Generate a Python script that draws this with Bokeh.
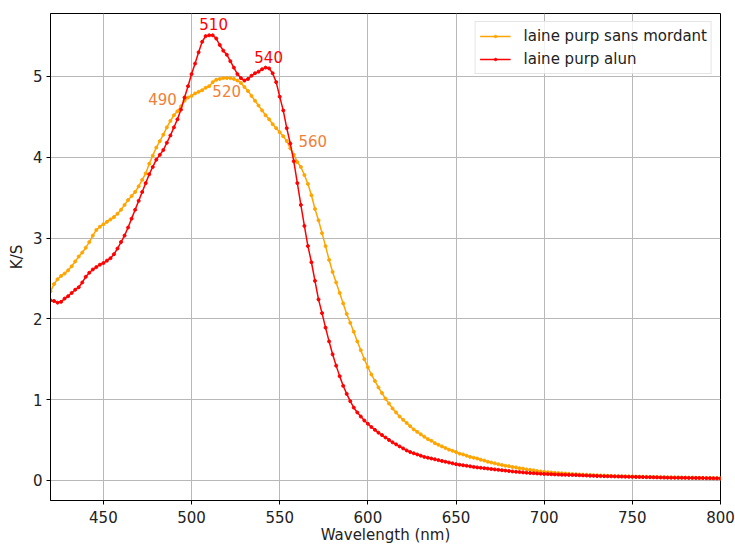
from bokeh.plotting import figure
from bokeh.models import Range1d, FixedTicker, Legend, LegendItem
from bokeh.core.properties import value
from bokeh.embed import file_html
from bokeh.resources import INLINE

# ---------------- data ----------------
wavelength = list(range(420, 801, 2))

sans_mordant = [
    2.34, 2.43, 2.49, 2.53, 2.56, 2.60, 2.65, 2.71, 2.77, 2.82,
    2.88, 2.95, 3.03, 3.10, 3.14, 3.17, 3.20, 3.23, 3.26, 3.30,
    3.35, 3.41, 3.47, 3.52, 3.57, 3.64, 3.72, 3.80, 3.92, 4.02,
    4.12, 4.20, 4.28, 4.37, 4.45, 4.52, 4.57, 4.63, 4.70, 4.74,
    4.76, 4.79, 4.81, 4.83, 4.86, 4.88, 4.93, 4.96, 4.97, 4.98,
    4.98, 4.98, 4.97, 4.95, 4.92, 4.87, 4.82, 4.76, 4.70, 4.64,
    4.58, 4.52, 4.47, 4.41, 4.36, 4.31, 4.26, 4.20, 4.11, 4.03,
    3.94, 3.88, 3.78, 3.67, 3.53, 3.36, 3.22, 3.06, 2.90, 2.73,
    2.58, 2.45, 2.32, 2.19, 2.06, 1.95, 1.84, 1.72, 1.61, 1.50,
    1.40, 1.31, 1.23, 1.15, 1.08, 1.01, 0.95, 0.89, 0.84, 0.79,
    0.75, 0.71, 0.67, 0.63, 0.60, 0.57, 0.54, 0.51, 0.49, 0.46,
    0.44, 0.42, 0.40, 0.38, 0.365, 0.35, 0.33, 0.32, 0.305, 0.29,
    0.28, 0.27, 0.255, 0.245, 0.23, 0.22, 0.21, 0.20, 0.19, 0.18,
    0.175, 0.165, 0.16, 0.15, 0.145, 0.135, 0.13, 0.125, 0.115, 0.11,
    0.105,
    0.101, 0.097, 0.093, 0.090, 0.087, 0.084, 0.081, 0.078, 0.075, 0.072,
    0.070, 0.068, 0.066, 0.064, 0.062, 0.060, 0.058, 0.056, 0.054, 0.052,
    0.051, 0.050, 0.049, 0.048, 0.047, 0.046, 0.045, 0.044, 0.043, 0.042,
    0.041, 0.040, 0.039, 0.038, 0.037, 0.036, 0.035, 0.035, 0.034, 0.033,
    0.032, 0.032, 0.031, 0.030, 0.030, 0.029, 0.028, 0.028, 0.027, 0.026,
]

alun = [
    2.23, 2.22, 2.20, 2.21, 2.25, 2.28, 2.32, 2.36, 2.39, 2.45,
    2.52, 2.57, 2.61, 2.64, 2.67, 2.69, 2.72, 2.75, 2.80, 2.87,
    2.95, 3.03, 3.13, 3.24, 3.35, 3.46, 3.57, 3.68, 3.79, 3.88,
    3.97, 4.03, 4.09, 4.18, 4.27, 4.37, 4.47, 4.59, 4.74, 4.88,
    5.03, 5.16, 5.30, 5.43, 5.50, 5.51, 5.51, 5.47, 5.39, 5.32,
    5.27, 5.19, 5.11, 5.03, 4.98, 4.95, 4.97, 5.01, 5.04, 5.06,
    5.09, 5.11, 5.10, 5.04, 4.93, 4.75, 4.58, 4.36, 4.17, 3.95,
    3.68, 3.41, 3.15, 2.90, 2.70, 2.47, 2.24, 2.07, 1.89, 1.72,
    1.56, 1.42, 1.29, 1.17, 1.07, 0.98, 0.90, 0.84, 0.79, 0.74,
    0.70, 0.66, 0.625, 0.59, 0.56, 0.53, 0.50, 0.47, 0.445, 0.42,
    0.395, 0.37, 0.35, 0.335, 0.32, 0.305, 0.29, 0.28, 0.27, 0.26,
    0.25, 0.24, 0.23, 0.22, 0.21, 0.20, 0.193, 0.186, 0.18, 0.173,
    0.166, 0.16, 0.155, 0.15, 0.145, 0.14, 0.135, 0.13, 0.125, 0.12,
    0.115, 0.11, 0.106, 0.102, 0.098, 0.094, 0.091, 0.088, 0.085, 0.082,
    0.079,
    0.077, 0.075, 0.073, 0.071, 0.069, 0.068, 0.067, 0.066, 0.065, 0.063,
    0.061, 0.059, 0.057, 0.055, 0.053, 0.052, 0.051, 0.050, 0.049, 0.048,
    0.047, 0.046, 0.045, 0.044, 0.043, 0.042, 0.041, 0.040, 0.039, 0.038,
    0.037, 0.036, 0.035, 0.034, 0.033, 0.033, 0.032, 0.032, 0.031, 0.031,
    0.030, 0.030, 0.029, 0.029, 0.028, 0.027, 0.026, 0.025, 0.024, 0.023,
]

assert len(wavelength) == len(sans_mordant) == len(alun), (len(wavelength), len(sans_mordant), len(alun))

x_ticks = [450, 500, 550, 600, 650, 700, 750, 800]
y_ticks = [0, 1, 2, 3, 4, 5]

# peak annotations (text, x, y)
red_labels = ["510", "540"]
red_label_x = [504.4, 535.6]
red_label_y = [5.58, 5.17]
orange_labels = ["490", "520", "560"]
orange_label_x = [475.4, 511.8, 560.6]
orange_label_y = [4.65, 4.75, 4.13]

FONT = "DejaVu Sans"
FS = "15px"

p = figure(width=735, height=546, output_backend="svg", toolbar_location=None,
           x_range=Range1d(420, 800), y_range=Range1d(-0.25, 5.78),
           min_border_left=50, min_border_right=15, min_border_top=13, min_border_bottom=44)
p.background_fill_color = "white"
p.border_fill_color = "white"
p.outline_line_color = "black"
p.outline_line_width = 1

for ax in (p.xaxis[0], p.yaxis[0]):
    ax.major_label_text_font = FONT
    ax.major_label_text_font_size = FS
    ax.major_label_text_color = "#222222"
    ax.axis_label_text_font = FONT
    ax.axis_label_text_font_size = FS
    ax.axis_label_text_font_style = "normal"
    ax.axis_label_text_color = "#222222"
    ax.axis_line_color = "black"
    ax.major_tick_line_color = "black"
    ax.major_tick_out = 4
    ax.major_tick_in = 0
    ax.minor_tick_line_color = None

p.xaxis.ticker = FixedTicker(ticks=x_ticks)
p.yaxis.ticker = FixedTicker(ticks=y_ticks)
p.xaxis.axis_label = "Wavelength (nm)"
p.yaxis.axis_label = "K/S"
p.xaxis.major_label_standoff = 6
p.xaxis.axis_label_standoff = 0
p.yaxis.major_label_standoff = 4
p.yaxis.axis_label_standoff = 4

p.xgrid.ticker = FixedTicker(ticks=x_ticks)
p.ygrid.ticker = FixedTicker(ticks=y_ticks)
for g in (p.xgrid[0], p.ygrid[0]):
    g.grid_line_color = "#b8b8b8"
    g.grid_line_width = 1

l1 = p.line(wavelength, sans_mordant, line_color="orange", line_width=1.5)
s1 = p.scatter(wavelength, sans_mordant, size=3, color="orange")
l2 = p.line(wavelength, alun, line_color="red", line_width=1.5)
s2 = p.scatter(wavelength, alun, size=3, color="red")

p.text(red_label_x, red_label_y, text=red_labels, text_color="red",
       text_font=value(FONT), text_font_size=FS, text_align="left", text_baseline="bottom")
p.text(orange_label_x, orange_label_y, text=orange_labels, text_color="#f08038",
       text_font=value(FONT), text_font_size=FS, text_align="left", text_baseline="bottom")

legend = Legend(items=[
    LegendItem(label="laine purp sans mordant", renderers=[l1, s1]),
    LegendItem(label="laine purp alun", renderers=[l2, s2]),
], location="top_right")
legend.label_text_font = FONT
legend.label_text_font_size = FS
legend.label_text_color = "#222222"
legend.border_line_color = "#cccccc"
legend.border_line_width = 1
legend.background_fill_alpha = 0.8
legend.glyph_width = 31
legend.glyph_height = 6
legend.label_height = 20
legend.label_standoff = 13
legend.spacing = 3
legend.padding = 4
legend.margin = 8
p.add_layout(legend, "center")

open("out.html", "w").write(file_html(p, INLINE))
